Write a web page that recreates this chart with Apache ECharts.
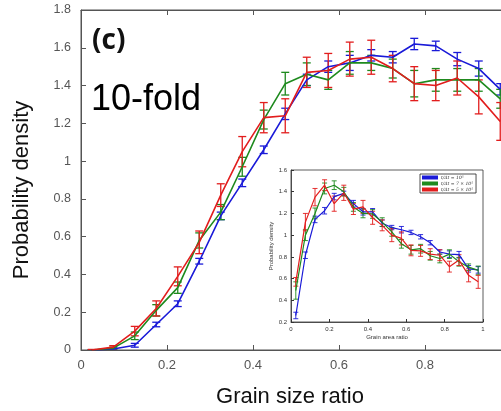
<!DOCTYPE html>
<html><head><meta charset="utf-8">
<script src="https://cdn.jsdelivr.net/npm/echarts@6/dist/echarts.min.js"></script>
<style>html,body{margin:0;padding:0;background:#fff}#c{width:501px;height:411px}</style>
</head><body><div id="c"></div>
<script>
// ---------- data ----------
const xs = [0.025,0.075,0.125,0.175,0.225,0.275,0.325,0.375,0.425,0.475,0.525,0.575,0.625,0.675,0.725,0.775,0.825,0.875,0.925,0.975];

const mainBlue    = [0.0,0.005,0.025,0.135,0.245,0.47,0.71,0.885,1.06,1.25,1.43,1.50,1.52,1.56,1.55,1.62,1.61,1.54,1.49,1.38];
const mainBlueErr = [0.002,0.004,0.01,0.012,0.015,0.015,0.02,0.02,0.02,0.03,0.03,0.03,0.04,0.03,0.03,0.03,0.025,0.035,0.04,0.03];
const mainGreen    = [0.0,0.01,0.075,0.21,0.33,0.58,0.73,0.97,1.22,1.41,1.46,1.43,1.52,1.52,1.49,1.41,1.43,1.43,1.43,1.33];
const mainGreenErr = [0.002,0.005,0.02,0.03,0.03,0.04,0.04,0.05,0.05,0.06,0.06,0.05,0.06,0.04,0.05,0.07,0.06,0.06,0.06,0.05];
const mainRed    = [0.0,0.015,0.10,0.22,0.39,0.57,0.82,1.05,1.23,1.24,1.47,1.48,1.54,1.55,1.49,1.41,1.40,1.44,1.34,1.21];
const mainRedErr = [0.003,0.008,0.025,0.04,0.05,0.06,0.06,0.08,0.08,0.09,0.08,0.09,0.09,0.09,0.07,0.09,0.08,0.09,0.09,0.1];

const insetBlue    = [0.26,0.815,1.145,1.225,1.355,1.385,1.29,1.215,1.215,1.11,1.07,1.05,1.025,0.985,0.93,0.845,0.825,0.82,0.69,0.68];
const insetBlueErr = [0.03,0.03,0.03,0.03,0.03,0.02,0.03,0.03,0.03,0.03,0.02,0.03,0.02,0.02,0.02,0.02,0.03,0.03,0.03,0.03];
const insetGreen    = [0.49,1.0,1.2,1.43,1.46,1.40,1.26,1.2,1.195,1.12,1.03,0.92,0.865,0.875,0.81,0.785,0.825,0.755,0.705,0.675];
const insetGreenErr = [0.08,0.05,0.05,0.05,0.04,0.04,0.04,0.04,0.04,0.04,0.04,0.04,0.04,0.04,0.04,0.04,0.04,0.04,0.03,0.04];
const insetRed    = [0.57,1.12,1.35,1.46,1.29,1.39,1.24,1.26,1.16,1.09,1.0,0.97,0.86,0.855,0.825,0.815,0.71,0.77,0.63,0.57];
const insetRedErr = [0.04,0.08,0.08,0.05,0.07,0.07,0.05,0.06,0.06,0.05,0.06,0.06,0.05,0.05,0.05,0.05,0.05,0.05,0.06,0.06];

const legendNames = ['t/\u0394t = 10\u2075', 't/\u0394t = 7 \u00d7 10\u2075', 't/\u0394t = 5 \u00d7 10\u2075'];

// ---------- style ----------
const BLUE = '#1a1ad8', GREEN = '#1e8a1e', RED = '#e21d1d';
const AX = '#555';

function pts(vals){ return xs.map((x,i)=>[x, vals[i]]); }
function errPts(vals, errs){ return xs.map((x,i)=>[x, vals[i], errs[i]]); }

function errSeries(vals, errs, color, xi, yi, cap, lw){
  return {
    type:'custom', xAxisIndex:xi, yAxisIndex:yi, clip:true, silent:true,
    encode:{x:0, y:1},
    data: errPts(vals, errs),
    renderItem: function(params, api){
      const x = api.value(0), y = api.value(1), e = api.value(2);
      const lo = api.coord([x, y - e]), hi = api.coord([x, y + e]);
      const st = {stroke: color, lineWidth: lw};
      return {type:'group', children:[
        {type:'line', shape:{x1:lo[0], y1:lo[1], x2:hi[0], y2:hi[1]}, style:st},
        {type:'line', shape:{x1:lo[0]-cap, y1:lo[1], x2:lo[0]+cap, y2:lo[1]}, style:st},
        {type:'line', shape:{x1:hi[0]-cap, y1:hi[1], x2:hi[0]+cap, y2:hi[1]}, style:st}
      ]};
    }
  };
}
function lineSeries(name, vals, color, xi, yi, lw){
  return {type:'line', name:name, xAxisIndex:xi, yAxisIndex:yi, data:pts(vals), symbol:'none',
    lineStyle:{color:color, width:lw}, itemStyle:{color:color}, z:3};
}

const chart = echarts.init(document.getElementById('c'), null, {renderer:'canvas'});
const fmt = v => (Math.abs(v) < 1e-9 ? '0' : (Math.abs(v-1) < 1e-9 ? '1' : v.toFixed(1)));

chart.setOption({
  animation:false,
  backgroundColor:'#fff',
  grid:[
    {left:81, top:10, width:430, height:340, outerBoundsMode:'none', containLabel:false,
     show:true, borderColor:AX, borderWidth:1, backgroundColor:'transparent'},
    {left:291, top:170, width:192, height:152, outerBoundsMode:'none', containLabel:false,
     show:true, borderColor:'#333', borderWidth:0.8, backgroundColor:'#fff', z:5}
  ],
  xAxis:[
    {gridIndex:0, type:'value', min:0, max:1, interval:0.2,
     axisLine:{lineStyle:{color:AX}}, axisTick:{inside:true, length:5, lineStyle:{color:AX}},
     axisLabel:{color:AX, fontSize:13, fontFamily:'Liberation Sans, Arial', margin:9, formatter:fmt},
     splitLine:{show:false}},
    {gridIndex:0, type:'value', position:'top', min:0, max:1, interval:0.2,
     axisLine:{lineStyle:{color:AX}}, axisTick:{inside:true, length:5, lineStyle:{color:AX}},
     axisLabel:{show:false}, splitLine:{show:false}},
    {gridIndex:1, type:'value', min:0, max:1, interval:0.2, z:6,
     axisLine:{lineStyle:{color:'#333', width:0.8}}, axisTick:{inside:true, length:3, lineStyle:{color:'#333'}},
     axisLabel:{color:'#333', fontSize:6, fontFamily:'Liberation Sans, Arial', margin:4, formatter:fmt},
     splitLine:{show:false},
     name:'Grain area ratio', nameLocation:'middle', nameGap:12,
     nameTextStyle:{fontSize:6, color:'#333', fontFamily:'Liberation Sans, Arial'}}
  ],
  yAxis:[
    {gridIndex:0, type:'value', min:0, max:1.8, interval:0.2,
     axisLine:{lineStyle:{color:AX}}, axisTick:{inside:true, length:5, lineStyle:{color:AX}},
     axisLabel:{color:AX, fontSize:12.5, fontFamily:'Liberation Sans, Arial', margin:10, formatter:fmt},
     splitLine:{show:false}},
    {gridIndex:1, type:'value', min:0.2, max:1.6, interval:0.2, z:6,
     axisLine:{lineStyle:{color:'#333', width:0.8}}, axisTick:{inside:true, length:3, lineStyle:{color:'#333'}},
     axisLabel:{color:'#333', fontSize:6, fontFamily:'Liberation Sans, Arial', margin:4, formatter:fmt},
     splitLine:{show:false},
     name:'Probability density', nameLocation:'middle', nameGap:15,
     nameTextStyle:{fontSize:6, color:'#333', fontFamily:'Liberation Sans, Arial'}}
  ],
  legend:{
    data:legendNames, orient:'vertical', left:420, top:174, z:10,
    backgroundColor:'#fff', borderColor:'#222', borderWidth:0.8, padding:[1,3,1,2],
    itemGap:1, itemWidth:16, itemHeight:4, icon:'rect', selectedMode:false,
    textStyle:{fontSize:4.5, color:'#333', fontFamily:'DejaVu Serif, serif', fontStyle:'italic', padding:[0,0,0,-2]}
  },
  graphic:[
    {type:'text', left:92, top:27, z:20, style:{text:'(c)', font:'bold 28px "Open Sans", "Liberation Sans", Arial', fill:'#111'}},
    {type:'text', left:91, top:82, z:20, style:{text:'10-fold', font:'36px "Liberation Sans", Arial', fill:'#000'}},
    {type:'text', x:22, y:190, rotation:Math.PI/2, z:20,
     style:{text:'Probability density', font:'22px "Liberation Sans", Arial', fill:'#111', align:'center', verticalAlign:'middle'}},
    {type:'text', x:290, y:397, z:20,
     style:{text:'Grain size ratio', font:'22px "Liberation Sans", Arial', fill:'#111', align:'center', verticalAlign:'middle'}}
  ],
  series:[
    lineSeries('mb', mainBlue, BLUE, 0, 0, 1.6),
    errSeries(mainBlue, mainBlueErr, BLUE, 0, 0, 4, 1.3),
    lineSeries('mg', mainGreen, GREEN, 0, 0, 1.6),
    errSeries(mainGreen, mainGreenErr, GREEN, 0, 0, 4, 1.3),
    lineSeries('mr', mainRed, RED, 0, 0, 1.6),
    errSeries(mainRed, mainRedErr, RED, 0, 0, 4, 1.3),
    Object.assign(lineSeries(legendNames[0], insetBlue, BLUE, 2, 1, 1.2), {z:8}),
    Object.assign(errSeries(insetBlue, insetBlueErr, BLUE, 2, 1, 2.5, 0.9), {z:8}),
    Object.assign(lineSeries(legendNames[1], insetGreen, GREEN, 2, 1, 1.2), {z:8}),
    Object.assign(errSeries(insetGreen, insetGreenErr, GREEN, 2, 1, 2.5, 0.9), {z:8}),
    Object.assign(lineSeries(legendNames[2], insetRed, RED, 2, 1, 1.2), {z:8}),
    Object.assign(errSeries(insetRed, insetRedErr, RED, 2, 1, 2.5, 0.9), {z:8})
  ]
});
</script></body></html>
